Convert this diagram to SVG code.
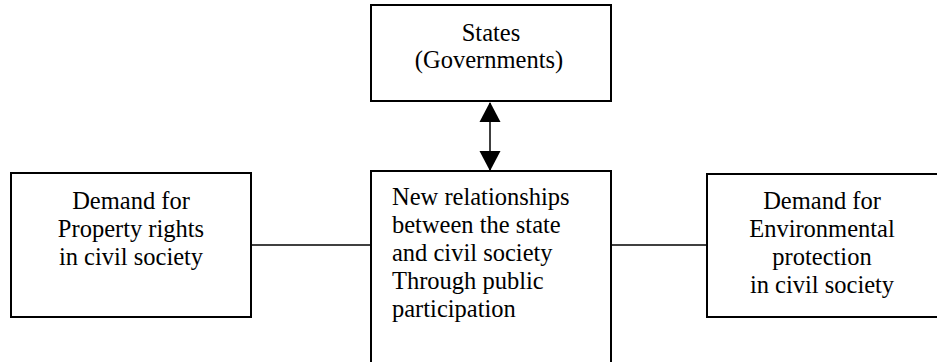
<svg xmlns="http://www.w3.org/2000/svg" width="937" height="362" viewBox="0 0 937 362">
<style>
.box{fill:#fff;stroke:#000;stroke-width:2}
.t{font-family:"Liberation Serif","Times New Roman",serif;font-size:24.5px;fill:#000}
.c{text-anchor:middle}
.ln{stroke:#000;stroke-width:1.5;fill:none}
</style>
<defs>
<marker id="ah" markerWidth="10" markerHeight="10" refX="10" refY="5" orient="auto-start-reverse" markerUnits="userSpaceOnUse" viewBox="0 0 10 10">
<path d="M0,0 L10,5 L0,10 z" fill="#000"/>
</marker>
</defs>
<g id="connectors">
<line class="ln" x1="251" y1="245" x2="371" y2="245"/>
<line class="ln" x1="611" y1="245" x2="707" y2="245"/>
<path d="M490,103 L490,171" stroke="#000" stroke-width="1.5" fill="none"/>
<polygon points="490,102 479.5,122 500.5,122" fill="#000"/>
<polygon points="490,171 479.5,151 500.5,151" fill="#000"/>
</g>
<g id="states">
<rect class="box" x="371" y="5" width="240" height="96"/>
<text class="t c" x="491" y="41">States</text>
<text class="t c" x="489" y="68">(Governments)</text>
</g>
<g id="property">
<rect class="box" x="11" y="173" width="240" height="144"/>
<text class="t c" x="131" y="209">Demand for</text>
<text class="t c" x="131" y="237">Property rights</text>
<text class="t c" x="131" y="265">in civil society</text>
</g>
<g id="relationships">
<rect class="box" x="371" y="171" width="240" height="200"/>
<text class="t" x="392" y="205">New relationships</text>
<text class="t" x="392" y="233">between the state</text>
<text class="t" x="392" y="261">and civil society</text>
<text class="t" x="392" y="289">Through public</text>
<text class="t" x="392" y="317">participation</text>
</g>
<g id="environment">
<rect class="box" x="707" y="174" width="250" height="143"/>
<text class="t c" x="822" y="209">Demand for</text>
<text class="t c" x="822" y="237">Environmental</text>
<text class="t c" x="822" y="265">protection</text>
<text class="t c" x="822" y="293">in civil society</text>
</g>
</svg>
